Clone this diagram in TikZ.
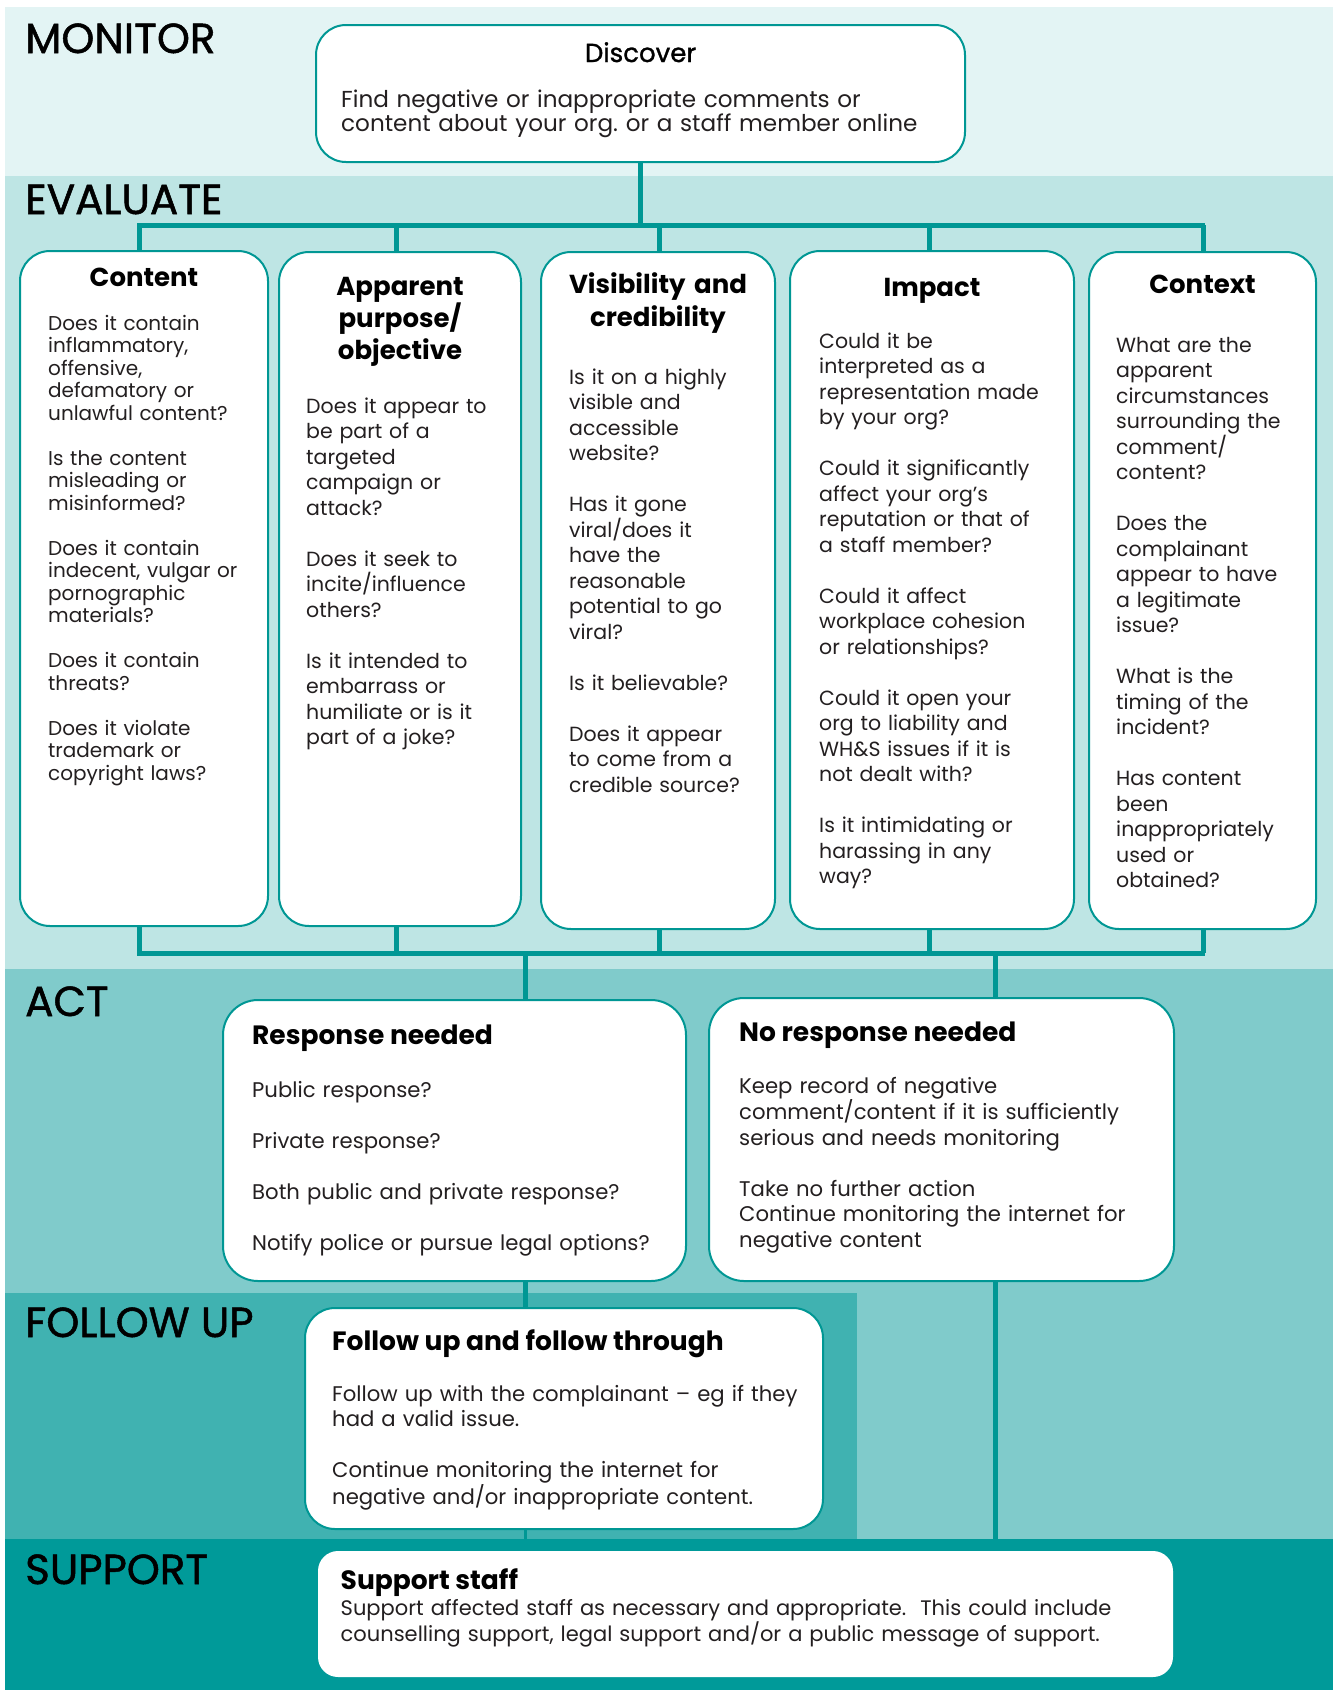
\documentclass[tikz,border=0pt]{standalone}
\usepackage{fontspec}
\setmainfont{Poppins}
\newfontfamily\stagefont{Poppins}[FakeBold=1.2]
\usetikzlibrary{positioning}

\definecolor{monbg}{HTML}{E3F4F4}
\definecolor{evalbg}{HTML}{BEE5E4}
\definecolor{actbg}{HTML}{80CBCB}
\definecolor{followbg}{HTML}{40B2B1}
\definecolor{supportbg}{HTML}{009A99}
\definecolor{wireteal}{HTML}{009794}
\definecolor{ink}{HTML}{231F20}

\tikzset{
	stagename/.style={anchor=base west, inner sep=0pt, font=\stagefont\fontsize{42}{46}\selectfont},
	card/.style={draw=wireteal, line width=2pt, fill=white, rounded corners=30pt, anchor=north west, inner sep=0pt},
	cardhead/.style={anchor=base, inner sep=0pt, text width=230pt, align=center, font=\bfseries\fontsize{26}{32}\selectfont},
	acthead/.style={anchor=base west, inner sep=0pt, font=\bfseries\fontsize{26.5}{30}\selectfont},
	cardtext/.style={anchor=base west, inner sep=0pt, text width=270pt, align=left, text=ink, font=\fontsize{20.5}{25.5}\selectfont},
	acttext/.style={cardtext, text width=560pt, font=\fontsize{21.2}{25.5}\selectfont},
	wire/.style={draw=wireteal, line width=5pt},
}

\begin{document}
\frenchspacing
\begin{tikzpicture}[x=1pt, y=-1pt]
	\useasboundingbox (0,0) rectangle (1333,1690);

		%bands
	\fill[monbg] (5,7) rectangle (1333,176);
	\fill[evalbg] (5,176) rectangle (1333,969);
	\fill[actbg] (5,969) rectangle (1333,1539);
	\fill[followbg] (5,1293) rectangle (857,1539);
	\fill[supportbg] (5,1539) rectangle (1333,1690);

	\node[stagename] (monitor) at (25,53) {MONITOR};
	\node[stagename] (evaluate) at (25,214) {EVALUATE};
	\node[stagename] (act) at (25,1016) {ACT};
	\node[stagename] (followup) at (25,1337) {FOLLOW UP};
	\node[stagename] (supportlbl) at (25,1584) {SUPPORT};

		%cards
	\node[card, minimum width=649pt, minimum height=137pt] (disc) at (315,24) {};
	\node[card, minimum width=248pt, minimum height=675pt] (content) at (19,250) {};
	\node[card, minimum width=242pt, minimum height=674pt] (purpose) at (278,251) {};
	\node[card, minimum width=234pt, minimum height=677pt] (visib) at (540,251) {};
	\node[card, minimum width=284pt, minimum height=678pt] (impact) at (789,250) {};
	\node[card, minimum width=227pt, minimum height=677pt] (context) at (1088,251) {};
	\node[card, rounded corners=35pt, minimum width=463pt, minimum height=281pt] (resp) at (222,999) {};
	\node[card, rounded corners=35pt, minimum width=465pt, minimum height=283pt] (nores) at (708,997) {};
	\node[card, minimum width=518pt, minimum height=221pt] (follow) at (304,1307) {};
	\node[card, draw=none, rounded corners=20pt, minimum width=855pt, minimum height=126pt] (support) at (317,1550) {};

		%monitor text
	\node[cardhead, text width=400pt, font=\stagefont\fontsize{26}{30}\selectfont] (disch) at ([yshift=-38pt]disc.north) {Discover};
	\node[cardtext, text width=620pt, font=\fontsize{23.1}{24}\selectfont] (discb) at ([xshift=26pt,yshift=-83pt]disc.north west)
		{Find negative or inappropriate comments or\\content about your org. or a staff member online};

		%evaluate titles
	\node[cardhead] (contenth) at ([yshift=-36pt]content.north) {Content};
	\node[cardhead] (purposeh) at ([yshift=-44pt]purpose.north) {Apparent\\purpose/\\objective};
	\node[cardhead, font=\bfseries\fontsize{26}{33}\selectfont] (visibh) at ([yshift=-42pt]visib.north) {Visibility and\\credibility};
	\node[cardhead] (impacth) at ([yshift=-46pt]impact.north) {Impact};
	\node[cardhead] (contexth) at ([yshift=-42pt]context.north) {Context};

		%evaluate questions
	\node[cardtext, font=\fontsize{20}{22.5}\selectfont] (contentb) at ([xshift=29pt,yshift=-80pt]content.north west)
		{Does it contain\\inflammatory,\\offensive,\\defamatory or\\unlawful content?\\[\baselineskip]
		Is the content\\misleading or\\misinformed?\\[\baselineskip]
		Does it contain\\indecent, vulgar or\\pornographic\\materials?\\[\baselineskip]
		Does it contain\\threats?\\[\baselineskip]
		Does it violate\\trademark or\\copyright laws?};
	\node[cardtext] (purposeb) at ([xshift=28pt,yshift=-162pt]purpose.north west)
		{Does it appear to\\be part of a\\targeted\\campaign or\\attack?\\[\baselineskip]
		Does it seek to\\incite/influence\\others?\\[\baselineskip]
		Is it intended to\\embarrass or\\humiliate or is it\\part of a joke?};
	\node[cardtext] (visibb) at ([xshift=29pt,yshift=-133pt]visib.north west)
		{Is it on a highly\\visible and\\accessible\\website?\\[\baselineskip]
		Has it gone\\viral/does it\\have the\\reasonable\\potential to go\\viral?\\[\baselineskip]
		Is it believable?\\[\baselineskip]
		Does it appear\\to come from a\\credible source?};
	\node[cardtext] (impactb) at ([xshift=30pt,yshift=-98pt]impact.north west)
		{Could it be\\interpreted as a\\representation made\\by your org?\\[\baselineskip]
		Could it significantly\\affect your org’s\\reputation or that of\\a staff member?\\[\baselineskip]
		Could it affect\\workplace cohesion\\or relationships?\\[\baselineskip]
		Could it open your\\org to liability and\\WH\&S issues if it is\\not dealt with?\\[\baselineskip]
		Is it intimidating or\\harassing in any\\way?};
	\node[cardtext] (contextb) at ([xshift=28pt,yshift=-101pt]context.north west)
		{What are the\\apparent\\circumstances\\surrounding the\\comment/\\content?\\[\baselineskip]
		Does the\\complainant\\appear to have\\a legitimate\\issue?\\[\baselineskip]
		What is the\\timing of the\\incident?\\[\baselineskip]
		Has content\\been\\inappropriately\\used or\\obtained?};

		%act, follow up, support text
	\node[acthead] (resph) at ([xshift=30pt,yshift=-45pt]resp.north west) {Response needed};
	\node[acttext] (respb) at ([xshift=30pt,yshift=-98pt]resp.north west)
		{Public response?\\[\baselineskip]Private response?\\[\baselineskip]Both public and private response?\\[\baselineskip]Notify police or pursue legal options?};
	\node[acthead] (noresh) at ([xshift=31pt,yshift=-44pt]nores.north west) {No response needed};
	\node[acttext] (noresb) at ([xshift=31pt,yshift=-96pt]nores.north west)
		{Keep record of negative\\comment/content if it is sufficiently\\serious and needs monitoring\\[\baselineskip]
		Take no further action\\Continue monitoring the internet for\\negative content};
	\node[acthead] (followh) at ([xshift=28pt,yshift=-43pt]follow.north west) {Follow up and follow through};
	\node[acttext] (followb) at ([xshift=28pt,yshift=-94pt]follow.north west)
		{Follow up with the complainant – eg if they\\had a valid issue.\\[\baselineskip]
		Continue monitoring the internet for\\negative and/or inappropriate content.};
	\node[acthead] (supporth) at ([xshift=23.5pt,yshift=-39pt]support.north west) {Support staff};
	\node[acttext, text width=820pt, font=\fontsize{21}{25}\selectfont] (supportb) at ([xshift=23.5pt,yshift=-65pt]support.north west)
		{Support affected staff as necessary and appropriate.\ \ This could include\\counselling support, legal support and/or a public message of support.};

		%tree wires
	\coordinate (evaltop) at (0,225);
	\coordinate (evalbot) at (0,953);
	\coordinate (respdrop) at (525,953);
	\coordinate (noresdrop) at (995,953);
	\coordinate (supporttop) at (0,1539);

	\draw[wire] (disc.south) -- (disc.south |- evaltop);
	\draw[wire, line cap=rect] ([xshift=-5pt]content.north |- evaltop) -- (context.north |- evaltop);
	\draw[wire, line cap=rect] ([xshift=-5pt]content.south |- evalbot) -- (context.south |- evalbot);
	\foreach \col/\dx in {content/-5,purpose/-4,visib/1,impact/-3,context/1} {
		\draw[wire] ([xshift=\dx pt]\col.north |- evaltop) -- ([xshift=\dx pt]\col.north);
		\draw[wire] ([xshift=\dx pt]\col.south) -- ([xshift=\dx pt]\col.south |- evalbot);
	}

	\draw[wire] (respdrop) -- (respdrop |- resp.north);
	\draw[wire] (noresdrop) -- (noresdrop |- nores.north);
	\draw[wire] (respdrop |- resp.south) -- (respdrop |- follow.north);
	\draw[wire, line width=3pt] (respdrop |- follow.south) -- (respdrop |- supporttop);
	\draw[wire] (noresdrop |- nores.south) -- (noresdrop |- supporttop);
\end{tikzpicture}
\end{document}
